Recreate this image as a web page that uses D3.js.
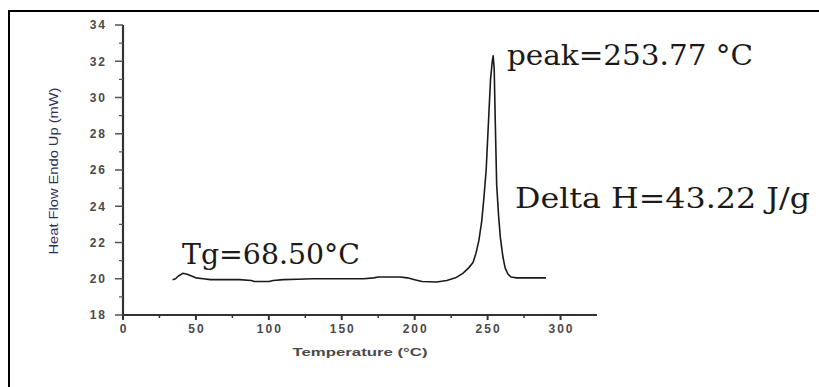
<!DOCTYPE html>
<html>
<head>
<meta charset="utf-8">
<script src="https://cdn.jsdelivr.net/npm/d3@7"></script>
<style>
  html, body { margin: 0; padding: 0; background: #fff; }
  svg { display: block; }
</style>
</head>
<body>
<svg id="chart" width="819" height="387"></svg>
<script>
// DSC trace
const temperature = [34, 36, 38, 41, 44, 47, 50, 55, 60, 70, 80, 88, 90, 100, 103, 110, 120, 130, 150, 165, 172,
  175, 190, 195, 200, 205, 215, 222, 228, 233, 237, 240, 242, 244, 246, 247.5, 249, 250.5, 252, 253.2, 253.8,
  254.5, 255.3, 256.2, 257.5, 258.7, 260.5, 262, 264, 266, 270, 280, 290];
const heatFlow = [19.95, 20.0, 20.15, 20.3, 20.25, 20.15, 20.05, 20.0, 19.95, 19.95, 19.95, 19.9, 19.85, 19.85, 19.9, 19.95, 19.97, 20.0, 20.0, 20.0, 20.05,
  20.1, 20.1, 20.05, 19.95, 19.85, 19.82, 19.9, 20.05, 20.3, 20.6, 20.9, 21.4, 22.1, 23.2, 24.5, 26.0, 28.5, 31.0, 32.0, 32.3,
  31.6, 28.5, 25.2, 23.5, 22.3, 21.2, 20.6, 20.25, 20.1, 20.05, 20.05, 20.05];

const xTicks = [0, 50, 100, 150, 200, 250, 300];
const xMinorTicks = [25, 75, 125, 175, 225, 275];
const yTicks = [18, 20, 22, 24, 26, 28, 30, 32, 34];
const yMinorTicks = [19, 21, 23, 25, 27, 29, 31, 33];

const annotations = [
  { text: 'peak=253.77 °C', x: 507, y: 65, len: 246 },
  { text: 'Delta H=43.22 J/g', x: 515, y: 208, len: 295 },
  { text: 'Tg=68.50°C', x: 182, y: 264, len: 178 }
];

const svg = d3.select('#chart');

// frame (clipped at right and bottom in the original)
svg.append('line').attr('x1', 9).attr('x2', 9).attr('y1', 10).attr('y2', 387)
  .style('stroke', '#000').style('stroke-width', 2);
svg.append('line').attr('x1', 8).attr('x2', 819).attr('y1', 11).attr('y2', 11)
  .style('stroke', '#000').style('stroke-width', 2);

const x = d3.scaleLinear().domain([0, 325]).range([123, 597]);
const y = d3.scaleLinear().domain([18, 34]).range([315, 25]);

const axisColor = '#333';
const labelColor = '#4a4a4a';

// y axis
const yAxis = svg.append('g').attr('class', 'y-axis');
yAxis.append('line')
  .attr('x1', x(0)).attr('x2', x(0)).attr('y1', y(34)).attr('y2', y(18))
  .style('stroke', axisColor).style('stroke-width', 2.2);
yAxis.selectAll('.major').data(yTicks).enter().append('line')
  .attr('x1', x(0) - 8).attr('x2', x(0)).attr('y1', d => y(d)).attr('y2', d => y(d))
  .style('stroke', '#555').style('stroke-width', 1.5);
yAxis.selectAll('.minor').data(yMinorTicks).enter().append('line')
  .attr('x1', x(0) - 4).attr('x2', x(0)).attr('y1', d => y(d)).attr('y2', d => y(d))
  .style('stroke', '#555').style('stroke-width', 1.2);
yAxis.selectAll('text').data(yTicks).enter().append('text')
  .attr('x', 107).attr('y', d => y(d)).attr('dy', '0.36em')
  .attr('text-anchor', 'end')
  .style('font-family', 'Liberation Sans, Arial, sans-serif')
  .style('font-size', '12px').style('font-weight', 'bold')
  .style('letter-spacing', '2px')
  .style('fill', labelColor)
  .text(d => d);

// x axis
const xAxis = svg.append('g').attr('class', 'x-axis');
xAxis.append('line')
  .attr('x1', x(0)).attr('x2', x(325)).attr('y1', y(18)).attr('y2', y(18))
  .style('stroke', axisColor).style('stroke-width', 2.2);
xAxis.selectAll('.major').data(xTicks).enter().append('line')
  .attr('x1', d => x(d)).attr('x2', d => x(d)).attr('y1', y(18)).attr('y2', y(18) + 5)
  .style('stroke', '#333').style('stroke-width', 2);
xAxis.selectAll('.minor').data(xMinorTicks).enter().append('line')
  .attr('x1', d => x(d)).attr('x2', d => x(d)).attr('y1', y(18)).attr('y2', y(18) + 3)
  .style('stroke', '#333').style('stroke-width', 1.5);
xAxis.selectAll('text').data(xTicks).enter().append('text')
  .attr('x', d => x(d) + 1).attr('y', 333)
  .attr('text-anchor', 'middle')
  .style('font-family', 'Liberation Sans, Arial, sans-serif')
  .style('font-size', '12px').style('font-weight', 'bold')
  .style('letter-spacing', '2px')
  .style('fill', labelColor)
  .text(d => d);

// axis titles
svg.append('text')
  .attr('x', 360).attr('y', 356)
  .attr('text-anchor', 'middle')
  .attr('textLength', 135).attr('lengthAdjust', 'spacingAndGlyphs')
  .style('font-family', 'Liberation Sans, Arial, sans-serif')
  .style('font-size', '11px').style('font-weight', 'bold')
  .style('fill', labelColor)
  .text('Temperature (°C)');

svg.append('text')
  .attr('transform', 'translate(58,171) rotate(-90)')
  .attr('text-anchor', 'middle')
  .attr('textLength', 167).attr('lengthAdjust', 'spacingAndGlyphs')
  .style('font-family', 'Liberation Sans, Arial, sans-serif')
  .style('font-size', '13px')
  .style('fill', '#2e2e5c')
  .text('Heat Flow Endo Up (mW)');

// curve
const points = temperature.map((t, i) => [t, heatFlow[i]]);
const line = d3.line().x(d => x(d[0])).y(d => y(d[1]));
svg.append('path')
  .datum(points)
  .attr('d', line)
  .style('fill', 'none')
  .style('stroke', '#1a1a1a')
  .style('stroke-width', 1.6)
  .style('stroke-linejoin', 'round');

// annotations
svg.selectAll('.note').data(annotations).enter().append('text')
  .attr('class', 'note')
  .attr('x', d => d.x).attr('y', d => d.y)
  .attr('textLength', d => d.len).attr('lengthAdjust', 'spacingAndGlyphs')
  .style('font-family', 'DejaVu Serif, serif')
  .style('font-size', '27px')
  .style('fill', '#1c1a18')
  .text(d => d.text);
</script>
</body>
</html>
